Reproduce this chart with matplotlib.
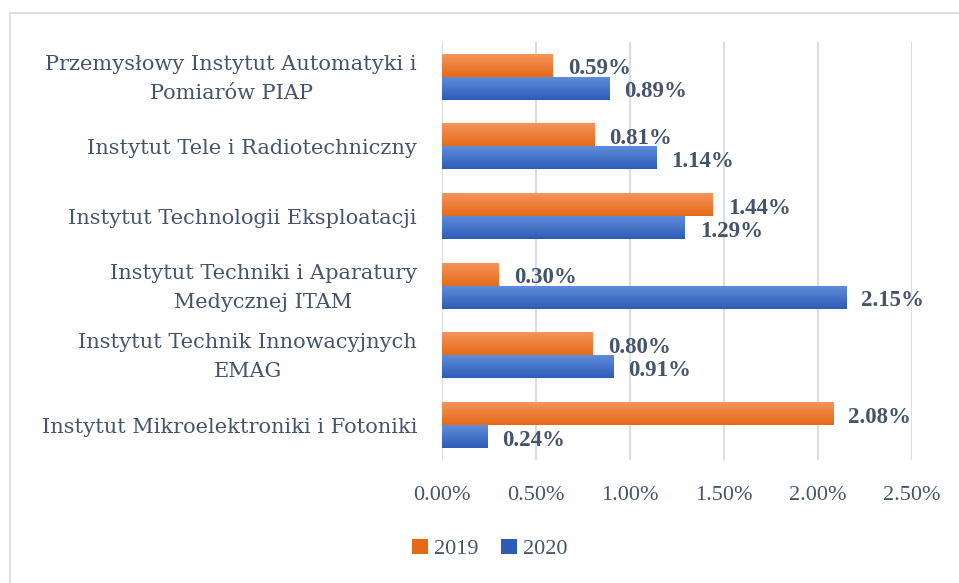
import matplotlib

matplotlib.use("Agg")
import matplotlib.pyplot as plt
import numpy as np
from matplotlib.colors import to_rgb
from matplotlib.patches import Patch, Rectangle
from matplotlib.transforms import ScaledTranslation

# ---- data ---------------------------------------------------------------
INSTITUTES = [
    "Przemysłowy Instytut Automatyki i\nPomiarów PIAP",
    "Instytut Tele i Radiotechniczny",
    "Instytut Technologii Eksploatacji",
    "Instytut Techniki i Aparatury\nMedycznej ITAM",
    "Instytut Technik Innowacyjnych\nEMAG",
    "Instytut Mikroelektroniki i Fotoniki",
]
SHARE_2019 = [0.59, 0.81, 1.44, 0.30, 0.80, 2.08]
SHARE_2020 = [0.89, 1.14, 1.29, 2.15, 0.91, 0.24]
X_TICKS = [0.0, 0.5, 1.0, 1.5, 2.0, 2.5]

TEXT = "#44546A"
GRID = "#D9DEE6"
ORANGE = ("#F4945C", "#E56A18")
BLUE = ("#5F8CDA", "#2D5CB7")
FONT = "Liberation Serif"
LABEL_FONT = "DejaVu Serif"
BAR_H = 0.33


def grad_bar(ax, y_lo, y_hi, width, colors):
    """Horizontal bar with a light-top / dark-bottom vertical gradient."""
    top, bot = np.array(to_rgb(colors[0])), np.array(to_rgb(colors[1]))
    t = np.linspace(0, 1, 64)[:, None]
    img = (top * (1 - t) + bot * t)[:, None, :]
    ax.imshow(img, extent=(0, width, y_lo, y_hi), origin="upper",
              aspect="auto", interpolation="bilinear", zorder=2)


fig = plt.figure(figsize=(9.59, 5.83), dpi=100)
fig.patches.append(Rectangle((10 / 959, -0.1), 1.2, 1 - 13 / 583 + 0.1,
                             transform=fig.transFigure, fill=False,
                             edgecolor="#D9D9D9", linewidth=1.2))
ax = fig.add_axes([442 / 959, 1 - 460 / 583, 470 / 959, 418 / 583])

n = len(INSTITUTES)
ypos = np.arange(n)[::-1].astype(float)  # first institute on top
for y, v19, v20 in zip(ypos, SHARE_2019, SHARE_2020):
    grad_bar(ax, y, y + BAR_H, v19, ORANGE)
    grad_bar(ax, y - BAR_H, y, v20, BLUE)
    for val, yc in ((v19, y + BAR_H / 2), (v20, y - BAR_H / 2)):
        ax.annotate(f"{val:.2f}%", (val, yc), xytext=(11, -2.5),
                    textcoords="offset points", ha="left", va="center",
                    fontsize=16.5, fontweight="bold", color=TEXT, family=FONT)

ax.set_xlim(0, 2.5)
ax.set_ylim(-0.5, n - 0.5)
ax.set_xticks(X_TICKS, [f"{x:.2f}%" for x in X_TICKS])
ax.set_yticks(ypos, INSTITUTES)
ax.tick_params(axis="x", length=0, pad=19, labelsize=16, labelcolor=TEXT)
ax.tick_params(axis="y", length=0, pad=18, labelsize=15, labelcolor=TEXT)
for lab in ax.get_xticklabels():
    lab.set_family(FONT)
lift = ScaledTranslation(0, 5 / 100, fig.dpi_scale_trans)
for lab in ax.get_yticklabels():
    lab.set_family(LABEL_FONT)
    lab.set_multialignment("center")
    lab.set_linespacing(1.65)
    if "\n" in lab.get_text():
        # two-line labels sit a little high in the original
        lab.set_transform(lab.get_transform() + lift)
ax.grid(axis="x", color=GRID, linewidth=1.5, zorder=0)
ax.set_axisbelow(True)
for s in ax.spines.values():
    s.set_visible(False)

handles = [Patch(facecolor=ORANGE[1], label="2019"),
           Patch(facecolor=BLUE[1], label="2020")]
fig.legend(handles=handles, loc="center", bbox_to_anchor=(490 / 959, 1 - 549 / 583),
           ncol=2, frameon=False, handlelength=0.7, handleheight=0.7,
           handletextpad=0.3, columnspacing=1.0,
           prop={"family": FONT, "size": 16}, labelcolor=TEXT)

fig.savefig("out.png", dpi=100)
